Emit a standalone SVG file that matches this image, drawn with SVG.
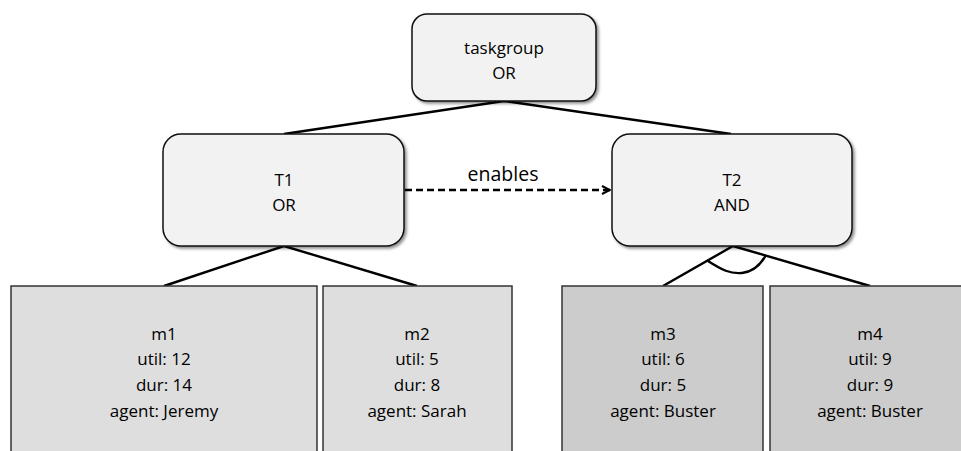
<svg xmlns="http://www.w3.org/2000/svg" width="961" height="451" viewBox="0 0 961 451">
<style>
text{font-family:"Open Sans","Liberation Sans",sans-serif;font-size:17px;fill:#000;text-anchor:middle}
.task{fill:#f2f2f2;stroke:#111;stroke-width:1.5}
.m12{fill:#dedede;stroke:#333;stroke-width:1.5}
.m34{fill:#cccccc;stroke:#333;stroke-width:1.5}
.edge{stroke:#000;stroke-width:2.4;fill:none}
</style>
<defs>
<filter id="sh" x="-10%" y="-10%" width="125%" height="130%">
<feGaussianBlur in="SourceAlpha" stdDeviation="1.5"/>
<feOffset dx="1.5" dy="2" result="b"/>
<feComponentTransfer><feFuncA type="linear" slope="0.45"/></feComponentTransfer>
<feMerge><feMergeNode/><feMergeNode in="SourceGraphic"/></feMerge>
</filter>
<marker id="arr" viewBox="0 0 10 10" refX="9" refY="5" markerWidth="10" markerHeight="10" markerUnits="userSpaceOnUse" orient="auto">
<path d="M1,1 L9,5 L1,9" fill="none" stroke="#000" stroke-width="2"/>
</marker>
</defs>
<rect width="961" height="451" fill="#fff"/>
<g id="connectors">
<path class="edge" d="M284,134 L504,101 L731,134"/>
<path class="edge" d="M164,286 L284,246 L417,286"/>
<path class="edge" d="M663,286 L733,246 L870,286"/>
<path class="edge" d="M708,261 C722,270 730,274 742,273 C752,272 760,266 766,255"/>
<path d="M405,190 L610,190" stroke="#000" stroke-width="2.4" stroke-dasharray="7,4" fill="none" marker-end="url(#arr)"/>
<text x="503" y="181" style="font-size:19.5px">enables</text>
</g>
<g id="taskgroup">
<rect class="task" x="412" y="14" width="184" height="87" rx="15" filter="url(#sh)"/>
<text x="504" y="54">taskgroup</text>
<text x="504" y="79">OR</text>
</g>
<g id="T1">
<rect class="task" x="163" y="134" width="241" height="112" rx="18" filter="url(#sh)"/>
<text x="284" y="186">T1</text>
<text x="284" y="211">OR</text>
</g>
<g id="T2">
<rect class="task" x="612" y="134" width="240" height="112" rx="18" filter="url(#sh)"/>
<text x="732" y="186">T2</text>
<text x="732" y="211">AND</text>
</g>
<g id="m1">
<rect class="m12" x="11" y="286" width="306" height="180"/>
<text x="164" y="340">m1</text>
<text x="164" y="365">util: 12</text>
<text x="164" y="391">dur: 14</text>
<text x="164" y="417">agent: Jeremy</text>
</g>
<g id="m2">
<rect class="m12" x="323" y="286" width="189" height="180"/>
<text x="417" y="340">m2</text>
<text x="417" y="365">util: 5</text>
<text x="417" y="391">dur: 8</text>
<text x="417" y="417">agent: Sarah</text>
</g>
<g id="m3">
<rect class="m34" x="562" y="286" width="201" height="180"/>
<text x="663" y="340">m3</text>
<text x="663" y="365">util: 6</text>
<text x="663" y="391">dur: 5</text>
<text x="663" y="417">agent: Buster</text>
</g>
<g id="m4">
<rect class="m34" x="770" y="286" width="200" height="180"/>
<text x="870" y="340">m4</text>
<text x="870" y="365">util: 9</text>
<text x="870" y="391">dur: 9</text>
<text x="870" y="417">agent: Buster</text>
</g>
</svg>
